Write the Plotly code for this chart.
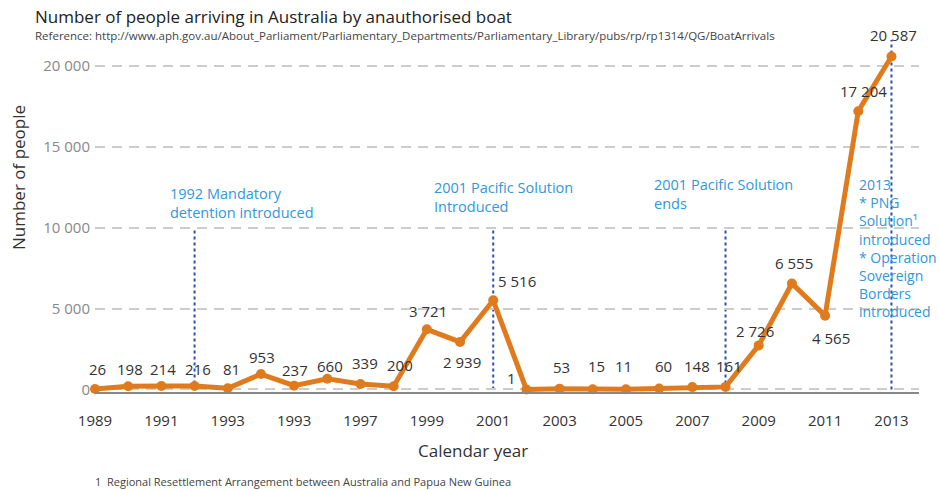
import plotly.graph_objects as go

# ---- data ----
years = list(range(1989, 2014))
arrivals = [26, 198, 214, 216, 81, 953, 237, 660, 339, 200, 3721, 2939, 5516,
            1, 53, 15, 11, 60, 148, 161, 2726, 6555, 4565, 17204, 20587]
tick_years = [1989, 1991, 1993, 1995, 1997, 1999, 2001, 2003, 2005, 2007, 2009, 2011, 2013]
tick_labels = ["1989", "1991", "1993", "1993", "1997", "1999", "2001", "2003",
               "2005", "2007", "2009", "2011", "2013"]
y_ticks = [0, 5000, 10000, 15000, 20000]
y_tick_labels = ["0", "5 000", "10 000", "15 000", "20 000"]
event_years = [1992, 2001, 2008, 2013]
event_tops = [10000, 10000, 10000, 21606]
event_texts = [
    "1992 Mandatory<br>detention introduced",
    "2001 Pacific Solution<br>Introduced",
    "2001 Pacific Solution<br>ends",
    "2013<br>* PNG<br>Solution¹<br>introduced<br>* Operation<br>Sovereign<br>Borders<br>introduced",
]

# ---- styles ----
FONT = "Open Sans"
ORANGE = "#E07B1D"
BLUE_TXT = "#3197DA"
BLUE_LINE = "#2A4FB3"
label_shifts = [(2, 20), (2, 17), (2, 17), (3, 17), (4, 19), (1, 17), (1, 16), (3, 13),
                (5, 21), (6, 21), (1, 18), (2, -20), (24, 19), (-15, 11), (2, 22), (4, 23),
                (-2, 23), (4, 23), (5, 21), (3, 21), (-4, 14), (2, 20), (6, -22), (5, 20), (2, 21)]
event_text_pos = [(168, 203), (432, 197), (652, 194), (857, 248)]  # left px, center px
event_font_sizes = [14.5, 14.5, 14.5, 14]

L, R, T, B = 95, 20, 40, 98
W, H = 939, 490
PW, PH = W - L - R, H - T - B


def px_to_paper(px, py):
    return (px - L) / PW, (H - B - py) / PH


fig = go.Figure()
fig.add_trace(go.Scatter(
    x=years, y=arrivals, mode="lines+markers",
    line=dict(color=ORANGE, width=5),
    marker=dict(color=ORANGE, size=10),
    cliponaxis=False, hoverinfo="x+y",
))

# vertical event lines
for yr, top in zip(event_years, event_tops):
    fig.add_shape(type="line", xref="x", yref="y", x0=yr, x1=yr, y0=0, y1=top,
                  line=dict(color=BLUE_LINE, width=2, dash="dot"), layer="below")

# data labels
for yr, v, (dx, dy) in zip(years, arrivals, label_shifts):
    fig.add_annotation(x=yr, y=v, text=f"{v:,}".replace(",", " "), showarrow=False,
                       xshift=dx, yshift=dy, xanchor="center", yanchor="middle",
                       font=dict(family=FONT, size=15, color="#333333"))

# event texts
for (px, py), txt, fs in zip(event_text_pos, event_texts, event_font_sizes):
    xp, yp = px_to_paper(px, py)
    fig.add_annotation(x=xp, y=yp, xref="paper", yref="paper", text=txt, showarrow=False,
                       xanchor="left", yanchor="middle", align="left",
                       font=dict(family=FONT, size=fs, color=BLUE_TXT))

# title / subtitle
xp, yp = px_to_paper(33, 16)
fig.add_annotation(x=xp, y=yp, xref="paper", yref="paper",
                   text="Number of people arriving in Australia by anauthorised boat",
                   showarrow=False, xanchor="left", yanchor="middle",
                   font=dict(family=FONT, size=17, color="#222222"))
xp, yp = px_to_paper(33, 35)
fig.add_annotation(x=xp, y=yp, xref="paper", yref="paper",
                   text="Reference: http://www.aph.gov.au/About_Parliament/Parliamentary_Departments/Parliamentary_Library/pubs/rp/rp1314/QG/BoatArrivals",
                   showarrow=False, xanchor="left", yanchor="middle",
                   font=dict(family=FONT, size=11.5, color="#444444"))
# axis titles
xp, yp = px_to_paper(18, 178)
fig.add_annotation(x=xp, y=yp, xref="paper", yref="paper", text="Number of people",
                   showarrow=False, textangle=-90, xanchor="center", yanchor="middle",
                   font=dict(family=FONT, size=17, color="#333333"))
xp, yp = px_to_paper(473, 450)
fig.add_annotation(x=xp, y=yp, xref="paper", yref="paper", text="Calendar year",
                   showarrow=False, xanchor="center", yanchor="middle",
                   font=dict(family=FONT, size=17, color="#333333"))
xp, yp = px_to_paper(93, 481)
fig.add_annotation(x=xp, y=yp, xref="paper", yref="paper",
                   text="1  Regional Resettlement Arrangement between Australia and Papua New Guinea",
                   showarrow=False, xanchor="left", yanchor="middle",
                   font=dict(family=FONT, size=11, color="#444444"))

fig.update_layout(
    width=W, height=H,
    margin=dict(l=L, r=R, t=T, b=B, pad=0),
    paper_bgcolor="white", plot_bgcolor="white",
    showlegend=False,
    font=dict(family=FONT),
    xaxis=dict(range=[1989, 2013.83], tickvals=tick_years, ticktext=tick_labels,
               showgrid=False, zeroline=False, showline=True, linecolor="#888888",
               linewidth=2, ticks="", ticklabelstandoff=14,
               tickfont=dict(family=FONT, size=15, color="#333333")),
    yaxis=dict(range=[-155, 21606], tickvals=y_ticks, ticktext=y_tick_labels,
               showgrid=True, gridcolor="#CCCCCC", gridwidth=1.5, griddash="10px,7px",
               zeroline=False, showline=False, ticks="", ticklabelstandoff=4,
               tickfont=dict(family=FONT, size=15, color="#888888")),
)

fig.write_html("out.html", config={"displayModeBar": False},
               post_script="document.body.style.margin='0';document.body.style.overflow='hidden';")
